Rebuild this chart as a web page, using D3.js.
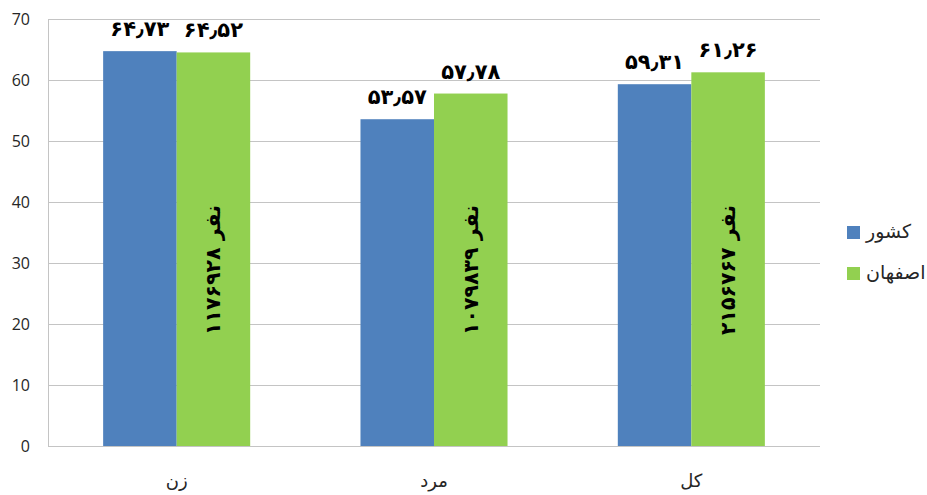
<!DOCTYPE html>
<html>
<head>
<meta charset="utf-8">
<script src="https://cdn.jsdelivr.net/npm/d3@7"></script>
<style>
  html, body { margin: 0; padding: 0; background: #fff; }
  svg { display: block; }
</style>
</head>
<body>
<svg id="chart" width="927" height="495"></svg>
<script>
// Participation rates (%) by group, country vs. Isfahan province
const categories = ["زن", "مرد", "کل"];
const seriesNames = ["کشور", "اصفهان"];
const countryValues = [64.73, 53.57, 59.31];
const isfahanValues = [64.52, 57.78, 61.26];
const populationLabels = ["۱۱۷۶۹۲۸ نفر", "۱۰۷۹۸۳۹ نفر", "۲۱۵۶۷۶۷ نفر"];
const yTickValues = [0, 10, 20, 30, 40, 50, 60, 70];
const seriesColors = ["#4F81BD", "#92D050"];

const persianDigits = "۰۱۲۳۴۵۶۷۸۹";
const toPersian = v => v.toFixed(2).replace(".", "٫").replace(/[0-9]/g, c => persianDigits[+c]);

const svg = d3.select("#chart");
const plot = { left: 48, right: 820, top: 19, bottom: 446 };

const y = d3.scaleLinear().domain([0, 70]).range([plot.bottom, plot.top]);
const x0 = d3.scaleBand().domain(categories).range([plot.left, plot.right]);
const x1 = d3.scaleBand().domain(seriesNames).range([0, x0.bandwidth()])
  .paddingInner(0).paddingOuter(0.75);

// gridlines
svg.append("g")
  .selectAll("line")
  .data(yTickValues)
  .join("line")
  .attr("x1", plot.left).attr("x2", plot.right)
  .attr("y1", d => y(d) + 0.5).attr("y2", d => y(d) + 0.5)
  .attr("stroke", "#c4c4c4").attr("stroke-width", 1);

// left axis line
svg.append("line")
  .attr("x1", plot.left + 0.5).attr("x2", plot.left + 0.5)
  .attr("y1", plot.top).attr("y2", plot.bottom + 1)
  .attr("stroke", "#c4c4c4");

// y tick labels
const yAxis = d3.axisLeft(y).tickValues(yTickValues).tickSize(0).tickPadding(18);
const yG = svg.append("g").attr("transform", `translate(${plot.left},0)`).call(yAxis);
yG.select(".domain").remove();
yG.selectAll("text")
  .attr("font-family", "'Open Sans', sans-serif")
  .attr("font-size", 16)
  .attr("fill", "#262626");

const rows = categories.map((c, i) => ({
  category: c,
  pop: populationLabels[i],
  values: [
    { series: seriesNames[0], value: countryValues[i], color: seriesColors[0] },
    { series: seriesNames[1], value: isfahanValues[i], color: seriesColors[1] }
  ]
}));

const groups = svg.append("g")
  .selectAll("g")
  .data(rows)
  .join("g")
  .attr("transform", d => `translate(${x0(d.category)},0)`);

groups.selectAll("rect")
  .data(d => d.values)
  .join("rect")
  .attr("x", d => x1(d.series))
  .attr("width", x1.bandwidth())
  .attr("y", d => y(d.value))
  .attr("height", d => y(0) - y(d.value))
  .attr("fill", d => d.color);

// value labels above bars
groups.selectAll("text.val")
  .data(d => d.values)
  .join("text")
  .attr("class", "val")
  .attr("x", d => x1(d.series) + x1.bandwidth() / 2)
  .attr("y", d => y(d.value) - 15)
  .attr("text-anchor", "middle")
  .attr("font-family", "'DejaVu Sans', sans-serif")
  .attr("font-weight", "bold")
  .attr("font-size", 21)
  .attr("fill", "#000")
  .text(d => toPersian(d.value));

// population labels, rotated inside the Isfahan bars
groups.append("text")
  .attr("transform", d => `translate(${x1(seriesNames[1]) + x1.bandwidth() / 2 + 7},205) rotate(-90)`)
  .attr("text-anchor", "end")
  .attr("font-family", "'DejaVu Sans', sans-serif")
  .attr("font-weight", "bold")
  .attr("font-size", 20.5)
  .attr("fill", "#000")
  .text(d => d.pop);

// category labels
svg.append("g")
  .selectAll("text")
  .data(categories)
  .join("text")
  .attr("x", d => x0(d) + x0.bandwidth() / 2)
  .attr("y", 487)
  .attr("text-anchor", "middle")
  .attr("font-family", "'DejaVu Sans', sans-serif")
  .attr("font-size", 18)
  .attr("fill", "#262626")
  .text(d => d);

// legend
const legend = svg.append("g")
  .selectAll("g")
  .data(seriesNames)
  .join("g")
  .attr("transform", (d, i) => `translate(847,${226 + i * 41})`);
legend.append("rect")
  .attr("width", 13).attr("height", 13)
  .attr("fill", (d, i) => seriesColors[i]);
legend.append("text")
  .attr("x", 19).attr("y", 12)
  .attr("font-family", "'DejaVu Sans', sans-serif")
  .attr("font-size", 19)
  .attr("fill", "#262626")
  .text(d => d);
</script>
</body>
</html>
